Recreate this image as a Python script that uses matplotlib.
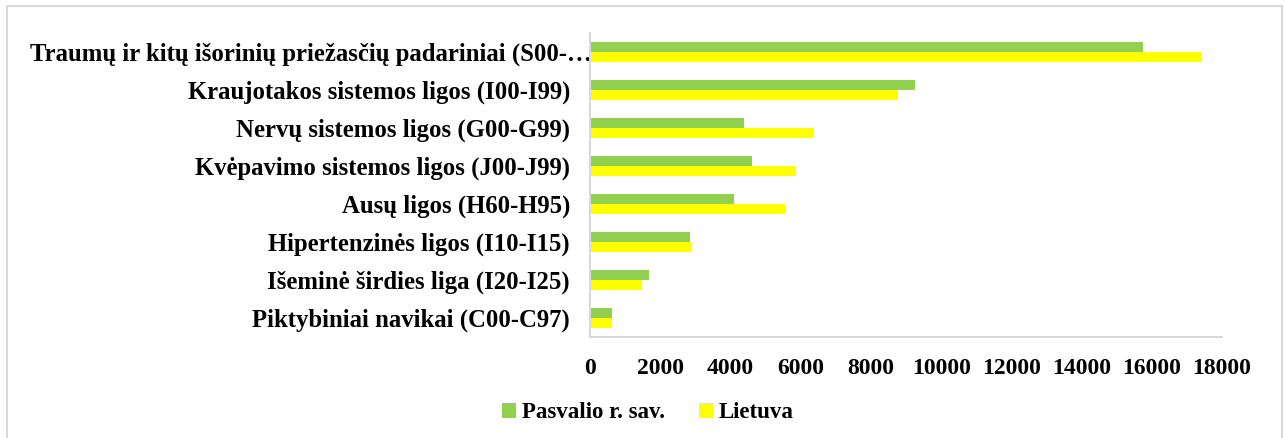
import matplotlib
matplotlib.use("Agg")
import matplotlib.pyplot as plt
import numpy as np
from matplotlib.patches import Rectangle

categories = [
    "Traumų ir kitų išorinių priežasčių padariniai (S00-…",
    "Kraujotakos sistemos ligos (I00-I99)",
    "Nervų sistemos ligos (G00-G99)",
    "Kvėpavimo sistemos ligos (J00-J99)",
    "Ausų ligos (H60-H95)",
    "Hipertenzinės ligos (I10-I15)",
    "Išeminė širdies liga (I20-I25)",
    "Piktybiniai navikai (C00-C97)",
]
pasvalys = [15760, 9260, 4390, 4600, 4110, 2850, 1690, 620]
lietuva = [17440, 8770, 6380, 5860, 5550, 2910, 1490, 620]
series_names = ["Pasvalio r. sav.", "Lietuva"]
xticks = [0, 2000, 4000, 6000, 8000, 10000, 12000, 14000, 16000, 18000]

W, H = 1285, 438
fig = plt.figure(figsize=(W / 100, H / 100), dpi=100)
font = dict(family="Liberation Serif", weight="bold")

left, right, top, bottom = 590, 1222, 33, 337
ax = fig.add_axes([left / W, 1 - bottom / H, (right - left) / W, (bottom - top) / H])

y = np.arange(len(categories))
bh = 0.265
green = "#92d050"
yellow = "#ffff00"
ax.barh(y - bh / 2, pasvalys, height=bh, color=green, label=series_names[0])
ax.barh(y + bh / 2, lietuva, height=bh, color=yellow, label=series_names[1])

ax.set_ylim(len(categories) - 0.5, -0.5)
ax.set_xlim(0, 18000)
ax.set_xticks(xticks)
ax.set_xticklabels([str(v) for v in xticks], fontsize=17, **font)
ax.set_yticks(y)
ax.set_yticklabels(categories, fontsize=17.8, **font)
ax.tick_params(axis="y", length=0, pad=14.4)
ax.tick_params(axis="x", length=0, pad=15)
lbl0 = ax.get_yticklabels()[0]
lbl0.set_x(22 / (right - left))

for s in ["top", "right"]:
    ax.spines[s].set_visible(False)
for s in ["left", "bottom"]:
    ax.spines[s].set_color("#d9d9d9")
    ax.spines[s].set_linewidth(1.5)

leg = fig.legend(loc="center", bbox_to_anchor=(648 / W, 1 - 413 / H), ncol=2,
                 frameon=False, prop=dict(family="Liberation Serif", weight="bold", size=16.5),
                 handlelength=0.6, handleheight=0.6, handletextpad=0.25, columnspacing=1.5)

fig.patches.append(Rectangle((7 / W, -0.01), (1282 - 7) / W, 1 - 6 / H + 0.01,
                             transform=fig.transFigure, fill=False,
                             edgecolor="#d9d9d9", linewidth=1.5))

fig.savefig("out.png", dpi=100)
